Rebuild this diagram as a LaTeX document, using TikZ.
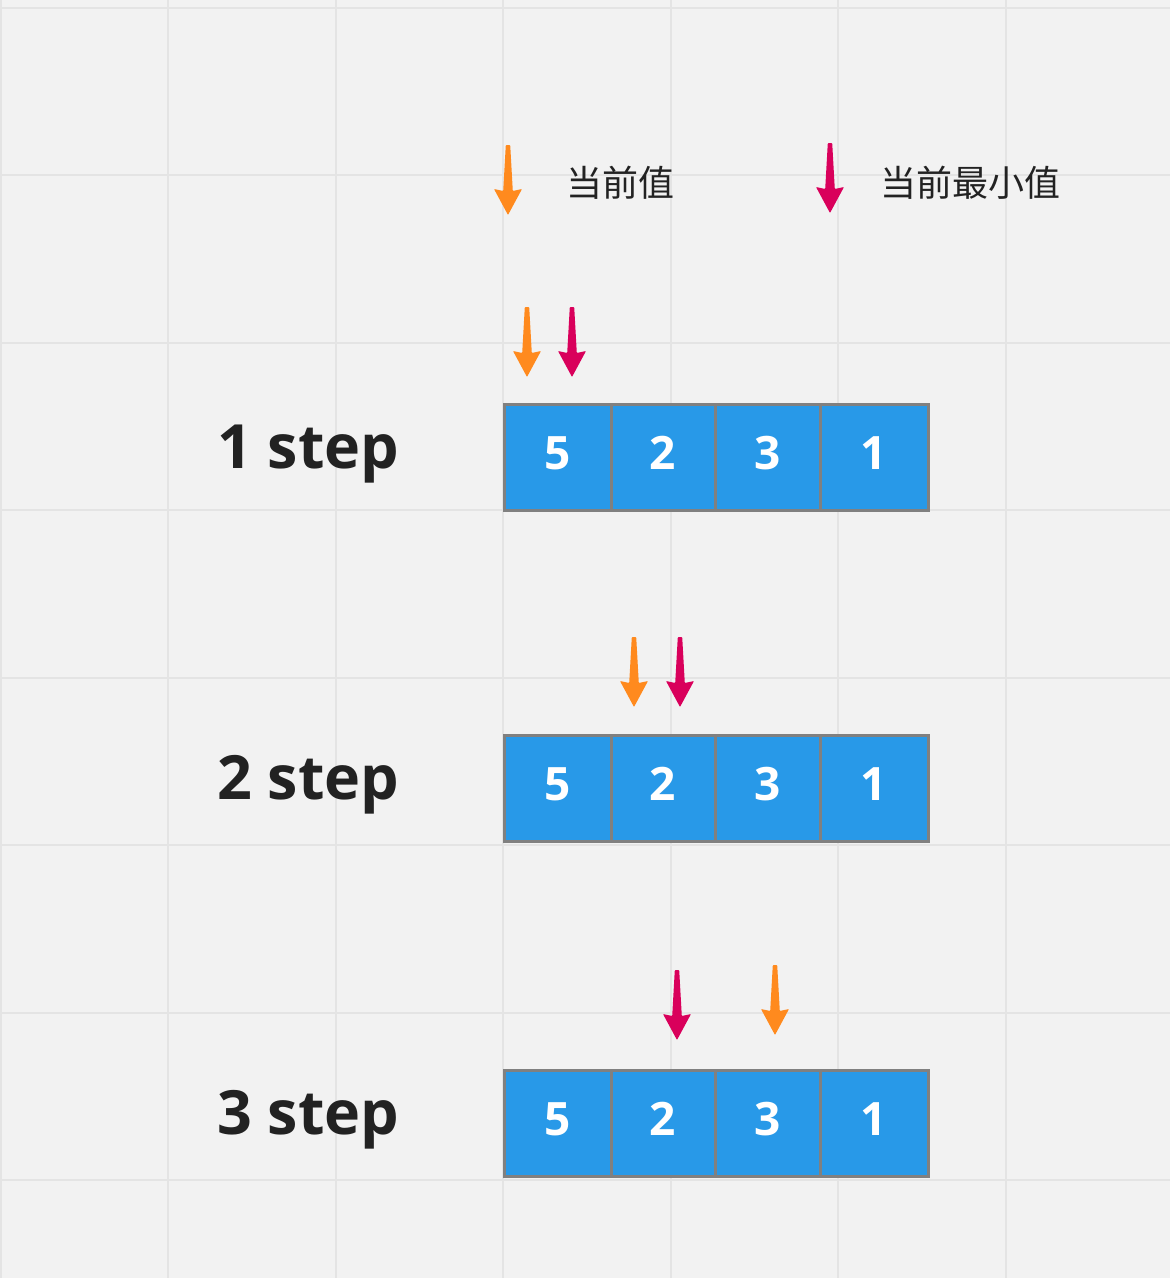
\documentclass[tikz,border=0pt]{standalone}
\usepackage{fontspec}
\setmainfont{Open Sans}
\newfontfamily\cjk{Noto Sans CJK SC}
\definecolor{bgc}{HTML}{F2F2F2}
\definecolor{gridc}{HTML}{E4E4E4}
\definecolor{cellc}{HTML}{2899E8}
\definecolor{cellb}{HTML}{808080}
\definecolor{curc}{HTML}{FF8A1E}
\definecolor{minc}{HTML}{D9005B}
\definecolor{txtc}{HTML}{222222}
\tikzset{
  cell/.style={draw=cellb, line width=3pt, fill=cellc, minimum height=106pt,
    inner sep=0pt, text=white, text height=33pt, text depth=8pt,
    font=\fontsize{46}{46}\selectfont\bfseries},
  steplabel/.style={anchor=base west, inner sep=0pt, text=txtc,
    font=\fontsize{61}{61}\selectfont\bfseries},
  legendtext/.style={anchor=base west, inner sep=0pt, text=txtc,
    font=\fontsize{36}{36}\selectfont\cjk},
  pics/downarrow/.style={code={
    \fill[#1, rounded corners=0.8pt] (-2.2,0) -- (2.2,0) -- (4.8,46) -- (14,44) -- (0,70) -- (-14,44) -- (-4.8,46) -- cycle;
  }}
}
\begin{document}
\begin{tikzpicture}[x=1pt,y=-1pt]
\useasboundingbox (0,0) rectangle (1170,1278);
\fill[bgc] (0,0) rectangle (1170,1278);
% grid
\foreach \gx in {1,168,336,503,671,838,1006}
  \draw[gridc, line width=2.5pt] (\gx,0) -- (\gx,1278);
\foreach \gy in {8,175,343,510,678,845,1013,1180}
  \draw[gridc, line width=2.5pt] (0,\gy) -- (1170,\gy);

% legend
\pic at (508,145) {downarrow=curc};
\node[legendtext] (lcur) at (566,196) {当前值};
\pic at (830,143) {downarrow=minc};
\node[legendtext] (lmin) at (880,196) {当前最小值};

% rows
\foreach \r/\cy/\lb in {1/457/468, 2/788/799, 3/1123/1134}{
  \node[steplabel] (lab\r) at (217,\lb) {\r\ step};
  \node[cell, minimum width=107pt] (c\r a) at (557.5,\cy) {5};
  \node[cell, minimum width=104pt] (c\r b) at (663,\cy) {2};
  \node[cell, minimum width=105pt] (c\r c) at (767.5,\cy) {3};
  \node[cell, minimum width=108pt] (c\r d) at (874,\cy) {1};
}

% pointer arrows
\pic at (527,307) {downarrow=curc};
\pic at (572,307) {downarrow=minc};
\pic at (634,637) {downarrow=curc};
\pic at (680,637) {downarrow=minc};
\pic at (677,970) {downarrow=minc};
\pic at (775,965) {downarrow=curc};
\end{tikzpicture}
\end{document}
